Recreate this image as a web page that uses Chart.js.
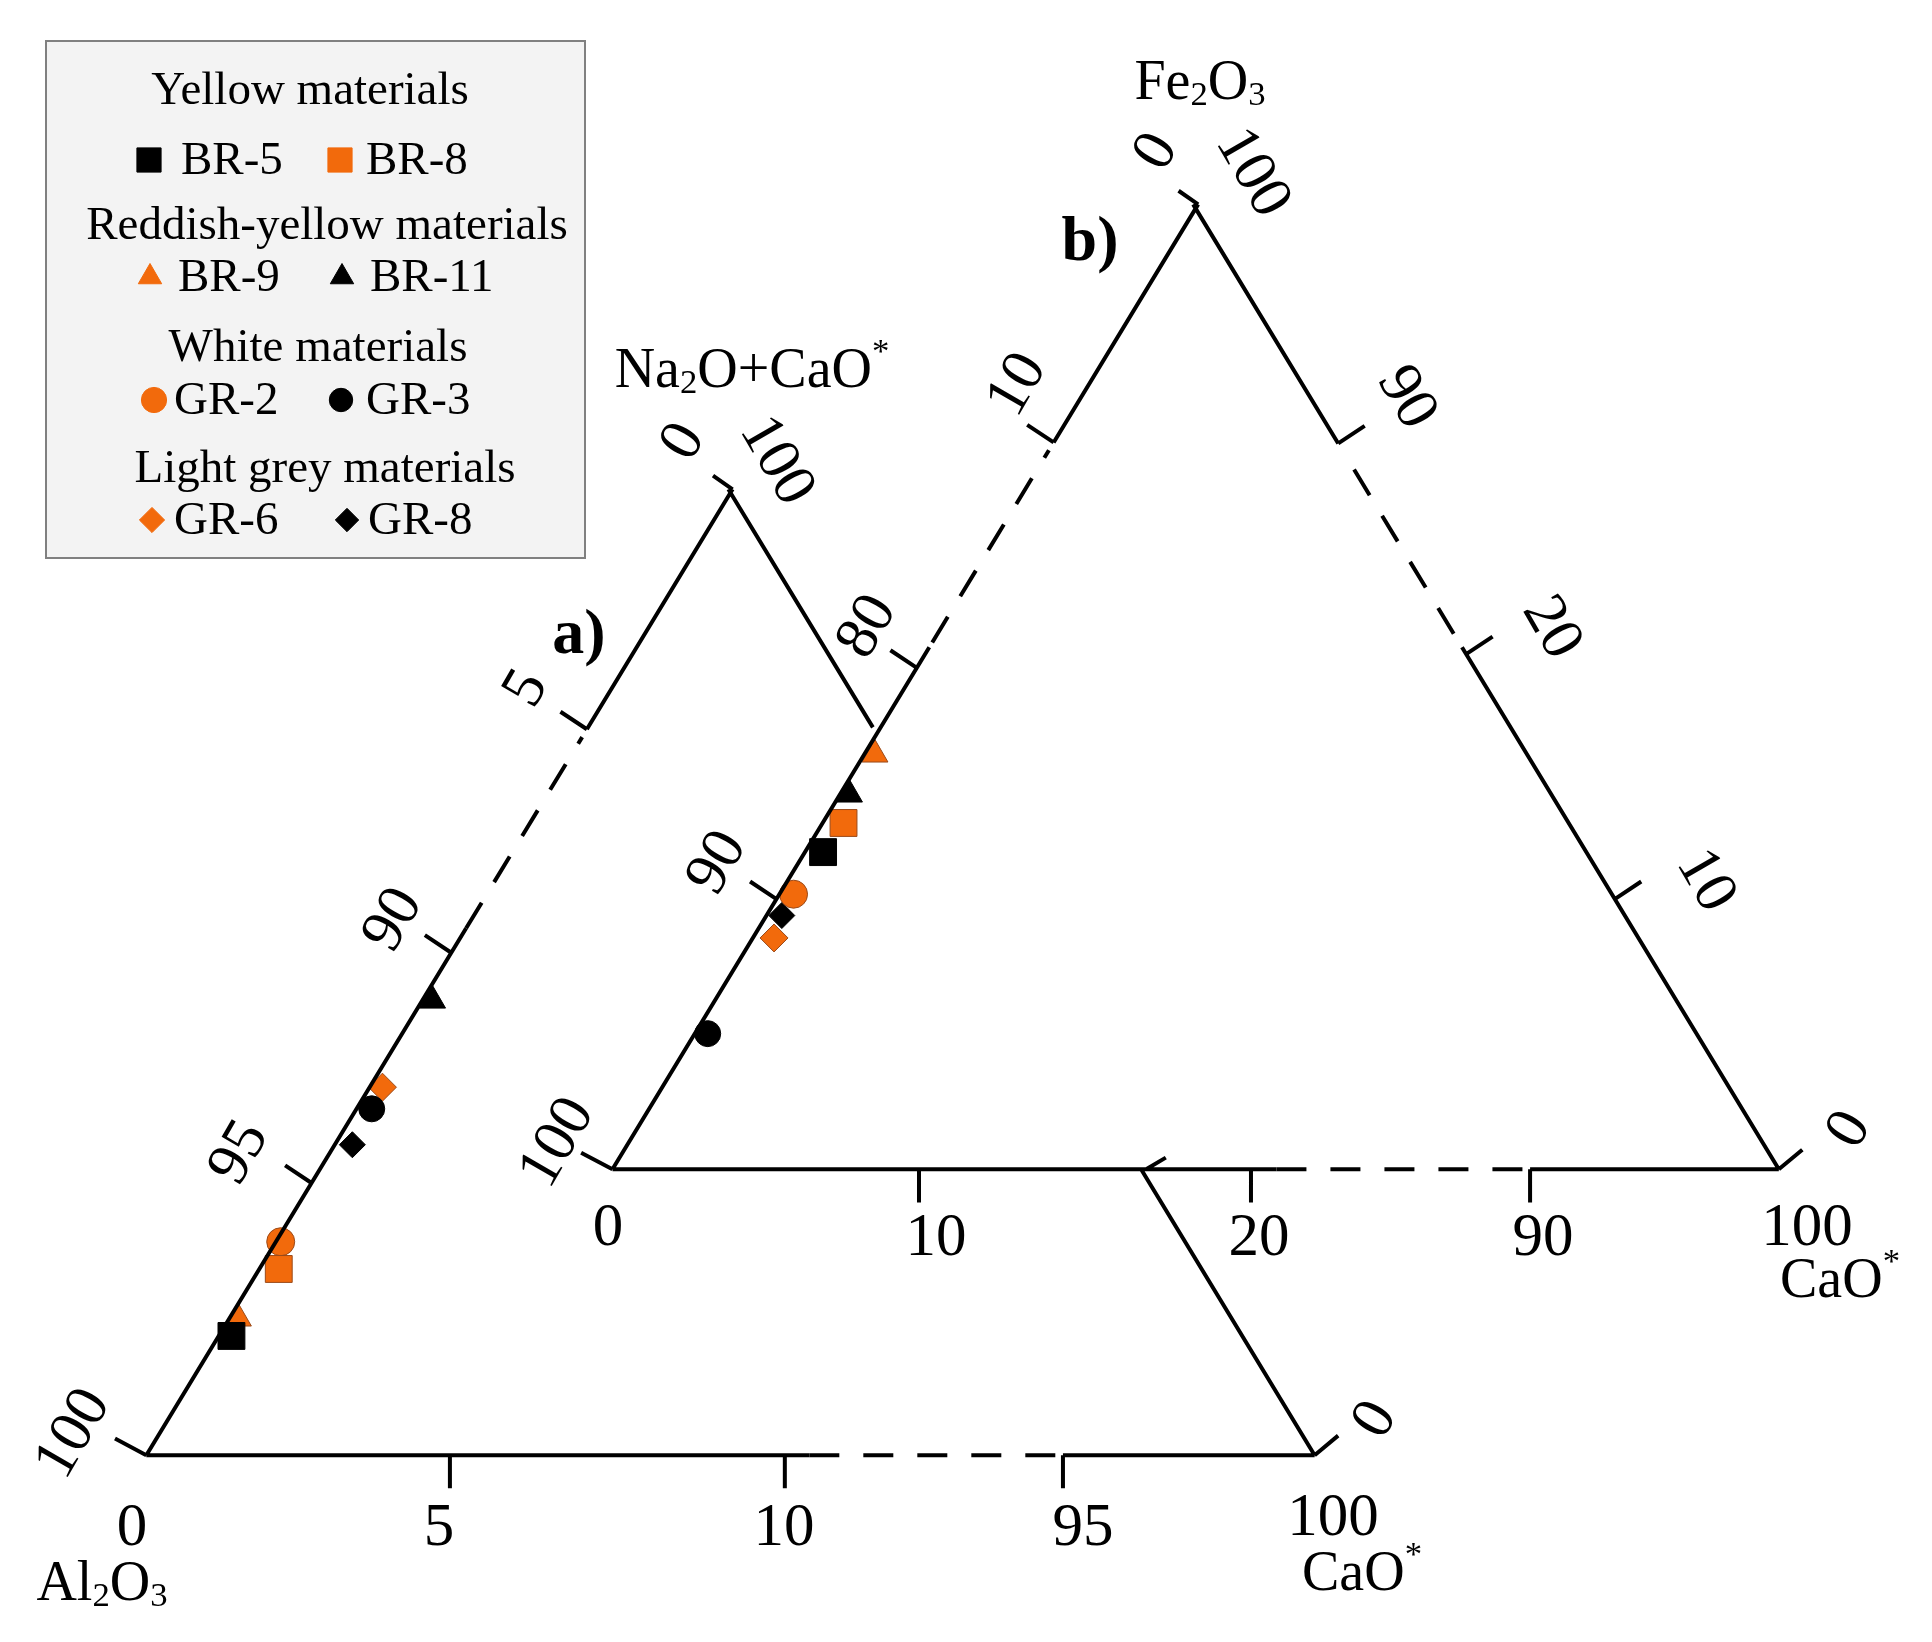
<!DOCTYPE html>
<html>
<head>
<meta charset="utf-8">
<script src="https://cdn.jsdelivr.net/npm/chart.js@4/dist/chart.umd.min.js"></script>
<style>
  body { margin: 0; background: #fff; }
  #wrap { width: 1932px; height: 1642px; }
</style>
</head>
<body>
<div id="wrap"><canvas id="c" width="1932" height="1642"></canvas></div>
<script>
// samples and their values
const samples = ["BR-5", "BR-8", "BR-9", "BR-11", "GR-2", "GR-3", "GR-6", "GR-8"];
// a) Na2O+CaO* along the left edge (100 - Al2O3), and CaO*
const aNaCa = [2.19, 3.42, 2.51, 8.96, 3.92, 6.61, 7.08, 5.83];
const aCaO = [0.21, 0.32, 0.15, 0.17, 0.08, 0.25, 0.21, 0.29];
// b) Fe2O3 along the left edge, and CaO*
const bFe = [12.03, 13.29, 16.25, 14.52, 10.21, 5.02, 8.56, 9.39];
const bCaO = [0.59, 0.68, 0.35, 0.31, 0.46, 0.42, 0.69, 0.50];
// tick labels
const aLeftTicks = ["100", "95", "90", "5", "0"];
const aBottomTicks = ["0", "5", "10", "95", "100"];
const bLeftTicks = ["100", "90", "80", "10", "0"];
const bBottomTicks = ["0", "10", "20", "90", "100"];
const bRightTicks = ["0", "10", "20", "90", "100"];

const ORANGE = "#f26a0c";
const styles = {
  "BR-5": ["rect", "#000", 19], "BR-8": ["rect", ORANGE, 19],
  "BR-9": ["triangle", ORANGE, 15], "BR-11": ["triangle", "#000", 15],
  "GR-2": ["circle", ORANGE, 14], "GR-3": ["circle", "#000", 13],
  "GR-6": ["rectRot", ORANGE, 14], "GR-8": ["rectRot", "#000", 13],
};

// broken-axis geometry of each triangle (pixels of the drawing)
const SLOPE = 0.6047;
const geo = {
  a: { x0: 129, y0: 1471, w: 1193, val: [0, 5, 10, 95, 100], dy: [0, 279, 515, 744, 990], dx: [0, 310, 652, 936, 1193] },
  b: { x0: 605, y0: 1178, w: 1191, val: [0, 10, 20, 90, 100], dy: [0, 277, 514, 745, 989], dx: [0, 313, 652, 937, 1191], rdy: [0, 277, 528, 744, 989] },
};
const interp = (xs, ys, v) => {
  for (let i = 1; i < xs.length; i++) {
    if (v <= xs[i]) return ys[i - 1] + (v - xs[i - 1]) / (xs[i] - xs[i - 1]) * (ys[i] - ys[i - 1]);
  }
  return ys[ys.length - 1];
};
const L = (g, dy) => ({ x: g.x0 + SLOPE * dy, y: g.y0 - dy });
const B = (g, dx) => ({ x: g.x0 + dx, y: g.y0 });
const R = (g, dy) => ({ x: g.x0 + g.w - SLOPE * dy, y: g.y0 - dy });
const tern = (g, n, c) => {
  const dy = interp(g.val, g.dy, n);
  return { x: g.x0 + SLOPE * dy + interp(g.val, g.dx, c), y: g.y0 - dy };
};
const off = (p, dx, dy) => ({ x: p.x + dx, y: p.y + dy });

const A = geo.a, Bg = geo.b;
const solid = [
  [L(A, 0), L(A, 540)], [L(A, 744), L(A, 990)],
  [R(A, 990), R(A, 746)], [R(A, 292), R(A, 0)],
  [B(A, 0), B(A, 677)], [B(A, 936), B(A, 1193)],
  [L(Bg, 0), L(Bg, 535)], [L(Bg, 745), L(Bg, 989)],
  [R(Bg, 0), R(Bg, 535)], [R(Bg, 744), R(Bg, 989)],
  [B(Bg, 0), B(Bg, 678)], [B(Bg, 937), B(Bg, 1191)],
];
const dashed = [
  [L(A, 540), L(A, 736)], [B(A, 677), B(A, 930)],
  [L(Bg, 540), L(Bg, 737)], [R(Bg, 549), R(Bg, 735)], [B(Bg, 678), B(Bg, 930)],
];
// ticks
[279, 515, 744].forEach(d => solid.push([L(A, d), off(L(A, d), -27, -18)]));
[310, 652, 936].forEach(d => solid.push([B(A, d), off(B(A, d), 0, 34)]));
[277, 514, 745].forEach(d => solid.push([L(Bg, d), off(L(Bg, d), -27, -18)]));
[313, 652, 937].forEach(d => solid.push([B(Bg, d), off(B(Bg, d), 0, 34)]));
[277, 528, 744].forEach(d => solid.push([R(Bg, d), off(R(Bg, d), 27, -18)]));
[A, Bg].forEach(g => {
  solid.push([L(g, 0), off(L(g, 0), -32, -17)]);
  solid.push([L(g, g.dy[4]), off(L(g, g.dy[4]), -20, -14)]);
  solid.push([R(g, 0), off(R(g, 0), 24, -20)]);
});
solid.push([{ x: 1150, y: 1178 }, { x: 1170, y: 1166 }]);

const flat = segs => segs.flatMap(s => [s[0], s[1], { x: null, y: null }]);

const pointSets = [];
samples.forEach((s, i) => {
  const [ps, col, r] = styles[s];
  pointSets.push({
    label: s,
    data: [tern(A, aNaCa[i], aCaO[i]), tern(Bg, bFe[i], bCaO[i])],
    showLine: false,
    pointStyle: ps,
    pointRadius: r,
    pointBackgroundColor: col,
    pointBorderColor: col === "#000" ? "#000" : "#9a4a1a",
    pointBorderWidth: 1,
  });
});

const serif = "'Liberation Serif', 'DejaVu Serif', serif";
const rotText = (ctx, t, x, y, ang, size) => {
  ctx.save();
  ctx.translate(x, y);
  ctx.rotate(ang * Math.PI / 180);
  ctx.font = `${size}px ${serif}`;
  ctx.fillText(t, 0, 0);
  ctx.restore();
};
const subText = (ctx, parts, x, y, size) => {
  // parts: [text, mode] mode 0 normal, 1 sub, 2 sup
  ctx.textAlign = "left";
  let w = 0;
  parts.forEach(([t, m]) => { ctx.font = `${m ? size * 0.62 : size}px ${serif}`; w += ctx.measureText(t).width; });
  let cx = x - w / 2;
  parts.forEach(([t, m]) => {
    ctx.font = `${m ? size * 0.62 : size}px ${serif}`;
    ctx.fillText(t, cx, y + (m === 1 ? size * 0.22 : m === 2 ? -size * 0.35 : 0));
    cx += ctx.measureText(t).width;
  });
};

const decor = {
  id: "decor",
  afterDatasetsDraw(chart) {
    const ctx = chart.ctx;
    ctx.save();
    ctx.fillStyle = "#000";
    ctx.textBaseline = "middle";
    ctx.textAlign = "center";
    // bottom tick labels
    ctx.font = `61px ${serif}`;
    [132, 439, 784, 1083, 1333].forEach((x, i) => ctx.fillText(aBottomTicks[i], x, i === 4 ? 1519 : 1529));
    [608, 936, 1259, 1543, 1807].forEach((x, i) => ctx.fillText(bBottomTicks[i], x, i === 0 || i === 4 ? 1229 : 1239));
    // rotated edge labels
    [[74, 1434], [240, 1153], [394, 920], [527, 689], [684, 442]].forEach((p, i) => rotText(ctx, aLeftTicks[i], p[0], p[1], -60, 61));
    rotText(ctx, "100", 776, 461, 60, 61);
    rotText(ctx, "0", 1376, 1420, -60, 61);
    [[558, 1143], [718, 863], [868, 627], [1018, 385], [1157, 152]].forEach((p, i) => rotText(ctx, bLeftTicks[i], p[0], p[1], -60, 61));
    [[1850, 1130], [1705, 881], [1551, 628], [1406, 398], [1252, 173]].forEach((p, i) =>
      rotText(ctx, bRightTicks[i], p[0], p[1], i === 0 ? -60 : 60, 61));
    // axis titles
    subText(ctx, [["Na", 0], ["2", 1], ["O+CaO", 0], ["*", 2]], 752, 372, 56);
    subText(ctx, [["Fe", 0], ["2", 1], ["O", 0], ["3", 1]], 1200, 84, 56);
    subText(ctx, [["Al", 0], ["2", 1], ["O", 0], ["3", 1]], 102, 1585, 56);
    subText(ctx, [["CaO", 0], ["*", 2]], 1362, 1575, 56);
    subText(ctx, [["CaO", 0], ["*", 2]], 1840, 1282, 56);
    ctx.textAlign = "center";
    ctx.font = `bold 64px ${serif}`;
    ctx.fillText("a)", 579, 636);
    ctx.fillText("b)", 1090, 243);

    // legend box
    ctx.fillStyle = "#f3f3f3";
    ctx.fillRect(46, 41, 539, 517);
    ctx.strokeStyle = "#808080";
    ctx.lineWidth = 2;
    ctx.strokeRect(46, 41, 539, 517);
    ctx.fillStyle = "#000";
    ctx.font = `47px ${serif}`;
    ctx.fillText("Yellow materials", 310, 92);
    ctx.fillText("Reddish-yellow materials", 327, 227);
    ctx.fillText("White materials", 318, 349);
    ctx.fillText("Light grey materials", 325, 470);
    const items = [
      ["BR-5", 149, 181, 160], ["BR-8", 340, 366, 160],
      ["BR-9", 150, 178, 277], ["BR-11", 342, 370, 277],
      ["GR-2", 154, 174, 400], ["GR-3", 341, 366, 400],
      ["GR-6", 152, 174, 520], ["GR-8", 347, 368, 520],
    ];
    items.forEach(([s, mx, tx, y]) => {
      const [ps, col, r] = styles[s];
      ctx.fillStyle = col;
      ctx.strokeStyle = col;
      ctx.lineWidth = 1;
      Chart.helpers.drawPoint(ctx, { pointStyle: ps, radius: r * 0.9, rotation: 0, borderWidth: 1 }, mx, y);
      ctx.fillStyle = "#000";
      ctx.textAlign = "left";
      ctx.font = `47px ${serif}`;
      ctx.fillText(s, tx, y + 2);
      ctx.textAlign = "center";
    });
    ctx.restore();
  },
};

new Chart(document.getElementById("c"), {
  type: "scatter",
  data: {
    datasets: [
      { data: flat(solid), showLine: true, spanGaps: false, borderColor: "#000", borderWidth: 4, pointRadius: 0 },
      { data: flat(dashed), showLine: true, spanGaps: false, borderColor: "#000", borderWidth: 4, borderDash: [30, 24], pointRadius: 0 },
      ...pointSets,
    ],
  },
  options: {
    responsive: false,
    devicePixelRatio: 1,
    animation: false,
    layout: { padding: 0 },
    scales: {
      x: { type: "linear", min: 0, max: 1932, display: false },
      y: { type: "linear", min: 0, max: 1642, reverse: true, display: false },
    },
    plugins: { legend: { display: false }, tooltip: { enabled: false } },
  },
  plugins: [decor],
});
</script>
</body>
</html>
